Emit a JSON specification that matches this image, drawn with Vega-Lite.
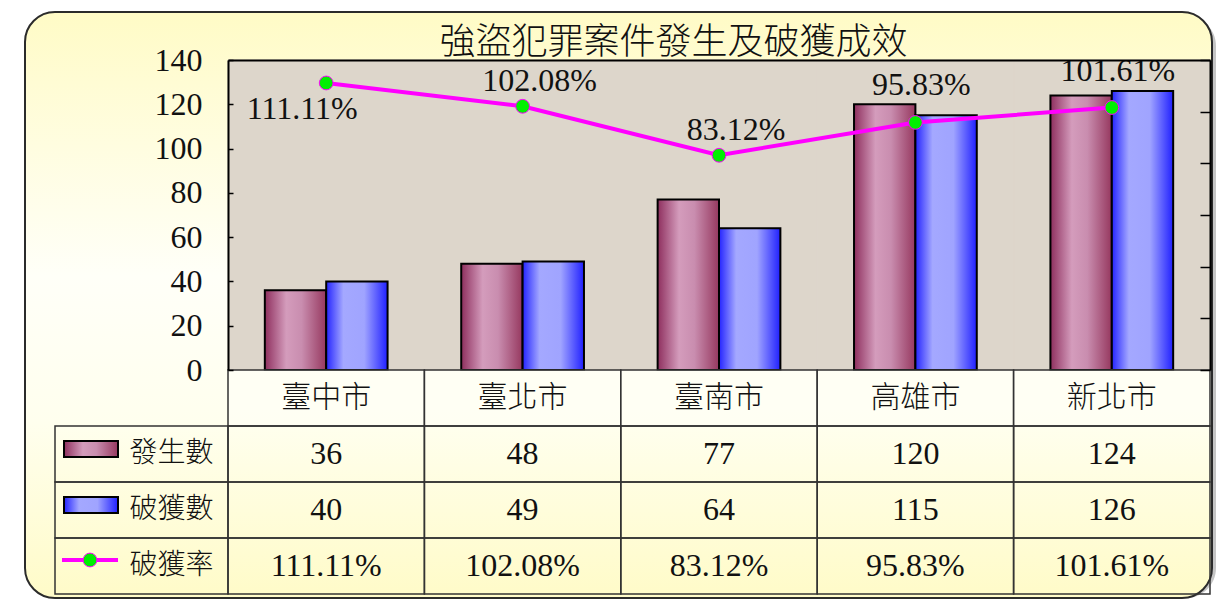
{
  "$schema": "https://vega.github.io/schema/vega-lite/v6.json",
  "width": 1187,
  "height": 586,
  "autosize": "none",
  "padding": {"left": 25, "top": 12, "right": 17, "bottom": 3},
  "background": "white",
  "config": {"view": {"stroke": null}, "axis": {"grid": false, "zindex": 2}},
  "title": {
    "text": "強盜犯罪案件發生及破獲成效",
    "font": "Noto Sans CJK TC",
    "fontSize": 36,
    "fontWeight": 300,
    "color": "#111111",
    "anchor": "middle",
    "frame": "group",
    "baseline": "bottom",
    "offset": -50,
    "dy": 37,
    "dx": 55
  },
  "datasets": {
    "main": [
      {"市": "臺中市", "發生數": 36, "破獲數": 40, "破獲率": 1.1111},
      {"市": "臺北市", "發生數": 48, "破獲數": 49, "破獲率": 1.0208},
      {"市": "臺南市", "發生數": 77, "破獲數": 64, "破獲率": 0.8312},
      {"市": "高雄市", "發生數": 120, "破獲數": 115, "破獲率": 0.9583},
      {"市": "新北市", "發生數": 124, "破獲數": 126, "破獲率": 1.0161}
    ],
    "legend": [{"列": "發生數"}, {"列": "破獲數"}, {"列": "破獲率"}],
    "one": [{"box": "box"}]
  },
  "data": {"name": "main"},
  "resolve": {
    "scale": {"x": "independent", "y": "independent", "xOffset": "independent"},
    "axis": {"x": "independent", "y": "independent"}
  },
  "layer": [
    {
      "data": {"name": "one"},
      "mark": {"type": "rect", "cornerRadius": 30, "fill": "#8c8c8c", "opacity": 0.5, "xOffset": 4, "yOffset": 4},
      "encoding": {}
    },
    {
      "data": {"name": "one"},
      "mark": {
        "type": "rect",
        "cornerRadius": 30,
        "stroke": "#2b2b2b",
        "strokeWidth": 2,
        "fill": {
          "gradient": "linear", "x1": 0, "y1": 0, "x2": 0, "y2": 1,
          "stops": [
            {"offset": 0, "color": "#FFFBC6"},
            {"offset": 0.12, "color": "#FFFCD4"},
            {"offset": 0.45, "color": "#FFFFF8"},
            {"offset": 0.7, "color": "#FFFFEE"},
            {"offset": 1, "color": "#FFFBC8"}
          ]
        }
      },
      "encoding": {}
    },
    {
      "encoding": {
        "x": {
          "field": "市", "type": "nominal", "sort": null,
          "scale": {"domain": ["臺中市", "臺北市", "臺南市", "高雄市", "新北市"], "range": [203, 1185], "paddingInner": 0, "paddingOuter": 0},
          "axis": {"orient": "top", "offset": -48, "domainColor": "#000000", "domainWidth": 2, "ticks": false, "labels": false, "title": null, "zindex": 2}
        }
      },
      "layer": [
        {
          "mark": {"type": "rect", "fill": "#DDD6CB", "stroke": "#DDD6CB", "strokeWidth": 1},
          "encoding": {
            "y": {
              "datum": 0, "type": "quantitative",
              "scale": {"domain": [0, 140], "range": [358, 48], "nice": false, "zero": true},
              "axis": {
                "orient": "left", "offset": -203, "values": [0, 20, 40, 60, 80, 100, 120, 140],
                "domainColor": "#000000", "domainWidth": 2,
                "tickSize": -5, "tickColor": "#000000", "tickWidth": 1.5,
                "labelFont": "Liberation Serif", "labelFontSize": 32, "labelColor": "#111111",
                "labelPadding": 31, "title": null, "zindex": 2
              }
            },
            "y2": {"datum": 140}
          }
        },
        {
          "transform": [{"fold": ["發生數", "破獲數"], "as": ["項目", "件數"]}, {"filter": "datum['項目'] === '發生數'"}],
          "mark": {
            "type": "bar", "stroke": "#000000", "strokeWidth": 2,
            "fill": {
              "gradient": "linear", "x1": 0, "y1": 0, "x2": 1, "y2": 0,
              "stops": [
                {"offset": 0, "color": "#8E2F5E"},
                {"offset": 0.35, "color": "#D49CBC"},
                {"offset": 0.6, "color": "#C98DAF"},
                {"offset": 1, "color": "#96385F"}
              ]
            }
          },
          "encoding": {
            "xOffset": {"field": "項目", "type": "nominal", "scale": {"domain": ["發生數", "破獲數"], "paddingInner": 0, "paddingOuter": 0.6}},
            "y": {"field": "件數", "type": "quantitative"}
          }
        },
        {
          "transform": [{"fold": ["發生數", "破獲數"], "as": ["項目", "件數"]}, {"filter": "datum['項目'] === '破獲數'"}],
          "mark": {
            "type": "bar", "stroke": "#000000", "strokeWidth": 2,
            "fill": {
              "gradient": "linear", "x1": 0, "y1": 0, "x2": 1, "y2": 0,
              "stops": [
                {"offset": 0, "color": "#2424FF"},
                {"offset": 0.28, "color": "#A4A8FF"},
                {"offset": 0.62, "color": "#A0A4FF"},
                {"offset": 1, "color": "#2020FF"}
              ]
            }
          },
          "encoding": {
            "xOffset": {"field": "項目", "type": "nominal", "scale": {"domain": ["發生數", "破獲數"], "paddingInner": 0, "paddingOuter": 0.6}},
            "y": {"field": "件數", "type": "quantitative"}
          }
        }
      ]
    },
    {
      "encoding": {
        "x": {
          "field": "市", "type": "nominal", "sort": null,
          "scale": {"domain": ["臺中市", "臺北市", "臺南市", "高雄市", "新北市"], "range": [203, 1185], "paddingInner": 0, "paddingOuter": 0},
          "axis": null
        },
        "y": {
          "field": "破獲率", "type": "quantitative",
          "scale": {"domain": [0, 1.2], "range": [358, 48], "nice": false},
          "axis": {
            "orient": "right", "offset": -2, "values": [0, 0.2, 0.4, 0.6, 0.8, 1, 1.2],
            "labels": false, "tickSize": -10, "tickColor": "#000000", "tickWidth": 1.5,
            "domainColor": "#000000", "domainWidth": 2, "title": null, "zindex": 2
          }
        }
      },
      "layer": [
        {"mark": {"type": "line", "color": "#FF00FF", "strokeWidth": 4}, "encoding": {}},
        {"mark": {"type": "point", "shape": "circle", "filled": true, "fill": "#00F000", "stroke": "#FF00FF", "strokeWidth": 1, "size": 190, "opacity": 1}, "encoding": {}},
        {
          "transform": [{"filter": "datum['市'] === '臺中市'"}],
          "mark": {"type": "text", "font": "Liberation Serif", "fontSize": 32, "color": "#111111", "dx": -24, "dy": 26},
          "encoding": {"text": {"field": "破獲率", "type": "quantitative", "format": ".2%"}}
        },
        {
          "transform": [{"filter": "datum['市'] === '臺北市' || datum['市'] === '臺南市'"}],
          "mark": {"type": "text", "font": "Liberation Serif", "fontSize": 32, "color": "#111111", "dx": 17, "dy": -25},
          "encoding": {"text": {"field": "破獲率", "type": "quantitative", "format": ".2%"}}
        },
        {
          "transform": [{"filter": "datum['市'] === '高雄市' || datum['市'] === '新北市'"}],
          "mark": {"type": "text", "font": "Liberation Serif", "fontSize": 32, "color": "#111111", "dx": 6, "dy": -37},
          "encoding": {"text": {"field": "破獲率", "type": "quantitative", "format": ".2%"}}
        }
      ]
    },
    {
      "encoding": {
        "x": {
          "field": "市", "type": "nominal", "sort": null,
          "scale": {"domain": ["臺中市", "臺北市", "臺南市", "高雄市", "新北市"], "range": [203, 1185], "paddingInner": 0, "paddingOuter": 0},
          "axis": null
        }
      },
      "layer": [
        {
          "mark": {"type": "rect", "fill": "#FFFFF6", "fillOpacity": 0.6, "stroke": "#333333", "strokeWidth": 1.5},
          "encoding": {
            "y": {
              "datum": "城市", "type": "nominal",
              "scale": {"domain": ["城市", "發生數", "破獲數", "破獲率"], "range": [358, 582], "paddingInner": 0, "paddingOuter": 0},
              "axis": null
            }
          }
        },
        {
          "transform": [{"fold": ["發生數", "破獲數", "破獲率"], "as": ["列", "值"]}],
          "mark": {"type": "rect", "fill": null, "stroke": "#333333", "strokeWidth": 1.5},
          "encoding": {"y": {"field": "列", "type": "nominal"}}
        },
        {
          "mark": {"type": "text", "font": "Noto Sans CJK TC", "fontSize": 30, "fontWeight": 300, "color": "#111111"},
          "encoding": {"y": {"datum": "城市", "type": "nominal"}, "text": {"field": "市", "type": "nominal"}}
        },
        {
          "transform": [{"fold": ["發生數", "破獲數"], "as": ["列", "值"]}],
          "mark": {"type": "text", "font": "Liberation Serif", "fontSize": 32, "color": "#111111"},
          "encoding": {"y": {"field": "列", "type": "nominal"}, "text": {"field": "值", "type": "quantitative"}}
        },
        {
          "mark": {"type": "text", "font": "Liberation Serif", "fontSize": 32, "color": "#111111"},
          "encoding": {"y": {"datum": "破獲率", "type": "nominal"}, "text": {"field": "破獲率", "type": "quantitative", "format": ".2%"}}
        }
      ]
    },
    {
      "data": {"name": "legend"},
      "encoding": {
        "x": {
          "datum": "圖例", "type": "nominal",
          "scale": {"domain": ["圖例"], "range": [30, 203], "paddingInner": 0, "paddingOuter": 0},
          "axis": null
        },
        "y": {
          "field": "列", "type": "nominal",
          "scale": {"domain": ["城市", "發生數", "破獲數", "破獲率"], "range": [358, 582], "paddingInner": 0, "paddingOuter": 0},
          "axis": null
        }
      },
      "layer": [
        {"mark": {"type": "rect", "fill": null, "stroke": "#333333", "strokeWidth": 1.5}, "encoding": {}},
        {
          "mark": {"type": "text", "font": "Noto Sans CJK TC", "fontSize": 28, "fontWeight": 300, "color": "#111111", "dx": 30},
          "encoding": {"text": {"field": "列", "type": "nominal"}}
        },
        {
          "transform": [{"filter": "datum['列'] === '發生數'"}],
          "mark": {
            "type": "point", "shape": "M-1,-0.3H1V0.3H-1Z", "size": 2916, "filled": true, "opacity": 1,
            "stroke": "#000000", "strokeWidth": 2, "xOffset": -50.5, "yOffset": -5,
            "fill": {
              "gradient": "linear", "x1": 0, "y1": 0, "x2": 1, "y2": 0,
              "stops": [
                {"offset": 0, "color": "#8E2F5E"},
                {"offset": 0.35, "color": "#D49CBC"},
                {"offset": 0.6, "color": "#C98DAF"},
                {"offset": 1, "color": "#96385F"}
              ]
            }
          },
          "encoding": {}
        },
        {
          "transform": [{"filter": "datum['列'] === '破獲數'"}],
          "mark": {
            "type": "point", "shape": "M-1,-0.3H1V0.3H-1Z", "size": 2916, "filled": true, "opacity": 1,
            "stroke": "#000000", "strokeWidth": 2, "xOffset": -50.5, "yOffset": -5,
            "fill": {
              "gradient": "linear", "x1": 0, "y1": 0, "x2": 1, "y2": 0,
              "stops": [
                {"offset": 0, "color": "#2424FF"},
                {"offset": 0.28, "color": "#A4A8FF"},
                {"offset": 0.62, "color": "#A0A4FF"},
                {"offset": 1, "color": "#2020FF"}
              ]
            }
          },
          "encoding": {}
        },
        {
          "transform": [{"filter": "datum['列'] === '破獲率'"}],
          "mark": {"type": "point", "shape": "M-1,0H1", "size": 3136, "filled": false, "opacity": 1, "stroke": "#FF00FF", "strokeWidth": 4, "xOffset": -51.5, "yOffset": -6},
          "encoding": {}
        },
        {
          "transform": [{"filter": "datum['列'] === '破獲率'"}],
          "mark": {"type": "point", "shape": "circle", "size": 190, "filled": true, "opacity": 1, "fill": "#00F000", "stroke": "#FF00FF", "strokeWidth": 1, "xOffset": -51.5, "yOffset": -6},
          "encoding": {}
        }
      ]
    }
  ]
}
